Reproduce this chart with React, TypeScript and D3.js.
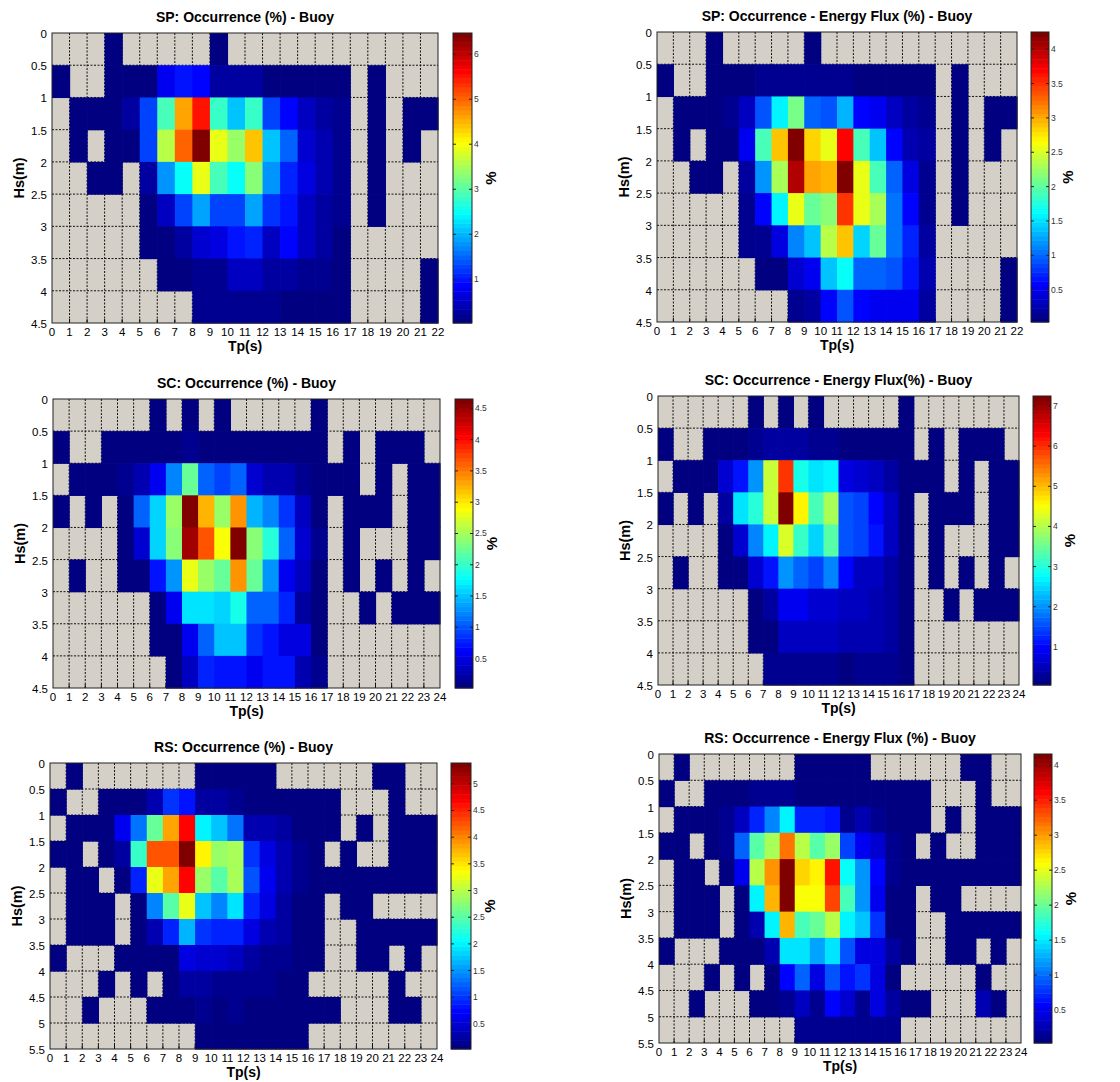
import { useEffect, useRef } from "react";
import * as d3 from "d3";

const _ = null;
type Cell = number | null;

// Tp bins are 1 s wide, Hs bins 0.5 m; null = no data (grey)
const spOccurrence: Cell[][] = [
  [_, _, _, 0.03, _, _, _, _, _, 0.04, _, _, _, _, _, _, _, _, _, _, _, _],
  [0.03, _, _, 0.03, 0.04, 0.12, 0.75, 0.95, 0.85, 0.3, 0.3, 0.3, 0.12, 0.12, 0.1, 0.08, 0.08, _, 0.03, _, _, _],
  [_, 0.03, 0.03, 0.03, 0.3, 1.3, 2.9, 4.65, 5.55, 2.8, 2.1, 2.8, 1.3, 0.9, 0.5, 0.3, 0.15, _, 0.03, _, 0.03, 0.03],
  [_, 0.03, _, 0.03, 0.03, 1.3, 3.65, 5.0, 6.47, 3.9, 3.4, 4.4, 2.05, 1.5, 0.6, 0.4, 0.2, _, 0.03, _, 0.03, _],
  [_, _, 0.03, 0.03, _, 0.3, 1.75, 2.45, 3.9, 2.9, 2.45, 3.3, 1.75, 1.1, 0.65, 0.35, 0.15, _, 0.03, _, _, _],
  [_, _, _, _, _, 0.1, 0.45, 1.25, 1.9, 1.25, 1.25, 1.9, 1.2, 1.0, 0.5, 0.3, 0.15, _, 0.03, _, _, _],
  [_, _, _, _, _, 0.08, 0.1, 0.3, 0.6, 0.7, 1.0, 1.1, 0.45, 0.85, 0.5, 0.3, 0.12, _, _, _, _, _],
  [_, _, _, _, _, _, 0.08, 0.08, 0.2, 0.2, 0.5, 0.5, 0.25, 0.25, 0.2, 0.15, 0.1, _, _, _, _, 0.03],
  [_, _, _, _, _, _, _, _, 0.15, 0.15, 0.2, 0.2, 0.2, 0.12, 0.12, 0.12, 0.1, _, _, _, _, 0.03],
];

const spEnergy: Cell[][] = [
  [_, _, _, 0.03, _, _, _, _, _, 0.03, _, _, _, _, _, _, _, _, _, _, _, _],
  [0.03, _, _, 0.05, 0.05, 0.08, 0.15, 0.15, 0.15, 0.12, 0.1, 0.1, 0.08, 0.08, 0.08, 0.06, 0.06, _, 0.03, _, _, _],
  [_, 0.03, 0.03, 0.03, 0.1, 0.3, 0.95, 1.6, 2.1, 1.0, 0.95, 1.3, 0.6, 0.5, 0.3, 0.2, 0.15, _, 0.03, _, 0.03, 0.03],
  [_, 0.03, _, 0.03, 0.03, 0.55, 1.9, 2.9, 4.25, 2.8, 2.6, 3.7, 1.9, 1.4, 0.6, 0.25, 0.2, _, 0.03, _, 0.03, _],
  [_, _, 0.03, 0.03, _, 0.2, 1.2, 2.3, 4.0, 3.0, 2.95, 4.25, 2.6, 1.9, 1.0, 0.45, 0.15, _, 0.03, _, _, _],
  [_, _, _, _, _, 0.1, 0.6, 1.6, 2.55, 2.05, 2.15, 3.5, 2.6, 2.3, 1.05, 0.6, 0.15, _, 0.03, _, _, _],
  [_, _, _, _, _, 0.1, 0.1, 0.45, 1.1, 1.4, 2.4, 2.9, 1.45, 2.05, 1.05, 0.7, 0.2, _, _, _, _, _],
  [_, _, _, _, _, _, 0.08, 0.08, 0.4, 0.55, 1.35, 1.65, 1.0, 1.0, 0.9, 0.65, 0.25, _, _, _, _, 0.03],
  [_, _, _, _, _, _, _, _, 0.1, 0.2, 0.6, 0.95, 0.6, 0.55, 0.55, 0.5, 0.2, _, _, _, _, 0.03],
];

const scOccurrence: Cell[][] = [
  [_, _, _, _, _, _, 0.03, _, 0.03, _, 0.03, _, _, _, _, _, 0.03, _, _, _, _, _, _, _],
  [0.03, _, _, 0.03, 0.03, 0.03, 0.05, 0.08, 0.12, 0.08, 0.06, 0.05, 0.05, 0.04, 0.04, 0.03, 0.03, _, 0.03, _, 0.03, 0.03, 0.03, _],
  [_, 0.03, 0.03, 0.03, 0.15, 0.25, 0.56, 1.25, 2.2, 1.05, 0.95, 1.05, 0.45, 0.25, 0.25, 0.15, 0.05, 0.03, 0.03, _, 0.03, _, 0.03, 0.03],
  [0.03, _, 0.03, _, 0.08, 1.05, 1.55, 2.45, 4.65, 3.25, 2.45, 3.4, 1.45, 1.25, 0.85, 0.35, 0.05, _, 0.03, 0.03, 0.03, _, 0.03, 0.03],
  [_, _, _, _, 0.05, 0.4, 1.55, 2.35, 4.45, 3.65, 2.9, 4.65, 2.35, 1.95, 1.05, 0.4, 0.15, _, 0.03, _, _, _, 0.03, 0.03],
  [_, 0.03, _, _, 0.03, 0.03, 0.7, 1.3, 2.8, 2.45, 2.25, 3.4, 2.2, 1.3, 0.55, 0.35, 0.05, _, 0.03, _, 0.03, _, 0.03, _],
  [_, _, _, _, _, _, 0.05, 0.55, 1.65, 1.65, 1.55, 1.85, 1.1, 1.05, 0.8, 0.2, 0.05, _, _, 0.03, _, 0.03, 0.03, 0.03],
  [_, _, _, _, _, _, 0.05, 0.1, 0.6, 1.05, 1.5, 1.5, 0.85, 0.7, 0.5, 0.5, 0.05, _, _, _, _, _, _, _],
  [_, _, _, _, _, _, _, 0.08, 0.35, 0.8, 0.75, 0.75, 0.55, 0.7, 0.7, 0.3, 0.15, _, _, _, _, _, _, _],
];

const scEnergy: Cell[][] = [
  [_, _, _, _, _, _, 0.05, _, 0.05, _, 0.05, _, _, _, _, _, 0.05, _, _, _, _, _, _, _],
  [0.05, _, _, 0.05, 0.05, 0.1, 0.2, 0.3, 0.35, 0.3, 0.25, 0.2, 0.15, 0.1, 0.1, 0.08, 0.05, _, 0.05, _, 0.05, 0.05, 0.05, _],
  [_, 0.05, 0.05, 0.05, 0.7, 1.1, 2.0, 4.1, 6.0, 2.9, 2.6, 2.7, 0.8, 0.65, 0.5, 0.35, 0.1, 0.05, 0.05, _, 0.05, _, 0.05, 0.05],
  [0.05, _, 0.05, _, 0.35, 2.6, 3.05, 4.1, 7.25, 4.6, 3.3, 3.9, 1.6, 1.45, 1.0, 0.5, 0.15, _, 0.05, 0.05, 0.05, _, 0.05, 0.05],
  [_, _, _, _, 0.1, 0.7, 1.9, 2.7, 4.3, 3.1, 2.5, 3.4, 1.6, 1.45, 1.1, 0.6, 0.1, _, 0.05, _, _, _, 0.05, 0.05],
  [_, 0.05, _, _, 0.05, 0.05, 0.7, 1.1, 2.0, 1.7, 1.45, 1.95, 1.0, 0.6, 0.5, 0.35, 0.1, _, 0.05, _, 0.05, _, 0.05, _],
  [_, _, _, _, _, _, 0.08, 0.35, 0.9, 0.85, 0.7, 0.7, 0.55, 0.5, 0.45, 0.3, 0.1, _, _, 0.05, _, 0.05, 0.05, 0.05],
  [_, _, _, _, _, _, 0.1, 0.1, 0.55, 0.55, 0.55, 0.55, 0.45, 0.45, 0.4, 0.35, 0.08, _, _, _, _, _, _, _],
  [_, _, _, _, _, _, _, 0.2, 0.2, 0.2, 0.2, 0.2, 0.12, 0.2, 0.2, 0.2, 0.1, _, _, _, _, _, _, _],
];

const rsOccurrence: Cell[][] = [
  [_, 0.03, _, _, _, _, _, _, _, 0.03, 0.03, 0.03, 0.03, 0.03, _, _, _, _, _, _, 0.03, 0.03, _, _],
  [0.03, _, _, 0.03, 0.03, 0.05, 0.3, 1.0, 0.8, 0.2, 0.2, 0.12, 0.08, 0.05, 0.05, 0.05, 0.05, 0.05, _, _, _, 0.03, _, _],
  [_, 0.03, 0.03, 0.03, 0.67, 1.35, 2.55, 3.8, 4.65, 2.0, 1.75, 1.35, 0.35, 0.35, 0.25, 0.05, 0.05, 0.05, _, 0.03, _, 0.03, 0.03, 0.03],
  [0.03, 0.03, _, 0.03, 0.2, 2.35, 4.3, 4.3, 5.39, 3.45, 2.8, 2.9, 1.0, 0.6, 0.3, 0.15, 0.05, _, 0.03, _, _, 0.03, 0.03, 0.03],
  [_, 0.03, 0.03, _, 0.05, 0.9, 3.25, 3.8, 4.65, 2.8, 2.5, 2.9, 1.2, 0.65, 0.3, 0.12, 0.05, 0.05, 0.05, 0.05, 0.05, 0.05, 0.05, 0.05],
  [_, 0.03, 0.03, 0.03, _, 0.05, 1.4, 2.5, 3.25, 1.75, 1.4, 1.95, 0.9, 0.6, 0.2, 0.08, 0.05, _, 0.03, 0.03, _, _, _, _],
  [_, 0.03, 0.03, 0.03, _, 0.05, 0.3, 0.9, 1.7, 1.0, 0.9, 0.9, 0.55, 0.35, 0.2, 0.05, 0.05, _, _, 0.03, 0.03, 0.03, 0.03, 0.03],
  [0.03, _, _, _, 0.03, 0.03, 0.05, 0.08, 0.55, 0.5, 0.45, 0.4, 0.2, 0.15, 0.12, 0.05, 0.05, _, _, 0.03, 0.03, _, 0.03, _],
  [_, _, _, 0.03, _, 0.03, _, 0.05, 0.2, 0.2, 0.12, 0.12, 0.12, 0.15, 0.1, 0.05, _, _, _, _, _, 0.03, _, _],
  [_, _, 0.03, _, _, _, 0.05, 0.05, 0.05, 0.12, 0.08, 0.12, 0.08, 0.05, 0.05, 0.05, 0.05, 0.05, _, _, _, 0.03, 0.03, _],
  [_, _, _, _, _, _, _, _, _, 0.05, 0.05, 0.05, 0.05, 0.05, 0.05, 0.05, _, _, _, _, _, _, _, _],
];

const rsEnergy: Cell[][] = [
  [_, 0.03, _, _, _, _, _, _, _, 0.03, 0.03, 0.03, 0.03, 0.03, _, _, _, _, _, _, 0.03, 0.03, _, _],
  [0.03, _, _, 0.05, 0.05, 0.05, 0.12, 0.15, 0.15, 0.08, 0.08, 0.08, 0.05, 0.05, 0.05, 0.05, 0.05, 0.05, _, _, _, 0.03, _, _],
  [_, 0.03, 0.03, 0.03, 0.1, 0.3, 0.7, 1.1, 1.55, 0.7, 0.7, 0.65, 0.15, 0.25, 0.15, 0.05, 0.05, 0.05, _, 0.03, _, 0.03, 0.03, 0.03],
  [0.03, 0.03, _, 0.03, 0.1, 0.95, 1.95, 2.25, 3.15, 2.3, 1.95, 2.2, 0.83, 0.5, 0.4, 0.12, 0.05, _, 0.03, _, _, 0.03, 0.03, 0.03],
  [_, 0.03, 0.03, _, 0.05, 0.5, 2.3, 3.0, 4.16, 2.8, 2.65, 3.55, 1.6, 1.15, 0.6, 0.12, 0.05, 0.05, 0.05, 0.05, 0.05, 0.05, 0.05, 0.05],
  [_, 0.03, 0.03, 0.03, _, 0.05, 1.55, 2.9, 4.16, 2.6, 2.55, 3.35, 1.85, 1.15, 0.5, 0.05, 0.05, _, 0.03, 0.03, _, _, _, _],
  [_, 0.03, 0.03, 0.03, _, 0.05, 0.25, 1.55, 2.9, 1.85, 2.0, 2.35, 1.55, 1.35, 0.75, 0.05, 0.05, _, _, 0.03, 0.03, 0.03, 0.03, 0.03],
  [0.03, _, _, _, 0.03, 0.03, 0.03, 0.25, 1.5, 1.5, 1.25, 1.45, 0.9, 0.45, 0.45, 0.2, 0.05, _, _, 0.03, 0.03, _, 0.03, _],
  [_, _, _, 0.03, _, 0.03, _, 0.05, 0.55, 0.95, 0.45, 0.9, 0.65, 0.8, 0.45, 0.05, _, _, _, _, _, 0.03, _, _],
  [_, _, 0.03, _, _, _, 0.05, 0.05, 0.15, 0.3, 0.15, 0.55, 0.4, 0.15, 0.45, 0.2, 0.05, 0.05, _, _, _, 0.25, 0.05, _],
  [_, _, _, _, _, _, _, _, _, 0.1, 0.1, 0.1, 0.12, 0.12, 0.15, 0.12, _, _, _, _, _, _, _, _],
];

// colorbar tick labels
const ticksSpOcc = [1, 2, 3, 4, 5, 6];
const ticksSpEnergy = [0.5, 1, 1.5, 2, 2.5, 3, 3.5, 4];
const ticksScOcc = [0.5, 1, 1.5, 2, 2.5, 3, 3.5, 4, 4.5];
const ticksScEnergy = [1, 2, 3, 4, 5, 6, 7];
const ticksRsOcc = [0.5, 1, 1.5, 2, 2.5, 3, 3.5, 4, 4.5, 5];
const ticksRsEnergy = [0.5, 1, 1.5, 2, 2.5, 3, 3.5, 4];

const panels = [
  { title: "SP: Occurrence (%) - Buoy", data: spOccurrence, cbTicks: ticksSpOcc, x: 52, y: 33, w: 386, h: 290, cbx: 453, cbw: 19 },
  { title: "SP: Occurrence - Energy Flux (%) - Buoy", data: spEnergy, cbTicks: ticksSpEnergy, x: 657, y: 32, w: 360, h: 290, cbx: 1031, cbw: 18 },
  { title: "SC: Occurrence (%) - Buoy", data: scOccurrence, cbTicks: ticksScOcc, x: 53, y: 399, w: 387, h: 289, cbx: 455, cbw: 18 },
  { title: "SC: Occurrence - Energy Flux(%) - Buoy", data: scEnergy, cbTicks: ticksScEnergy, x: 658, y: 396, w: 361, h: 289, cbx: 1033, cbw: 18 },
  { title: "RS: Occurrence (%) - Buoy", data: rsOccurrence, cbTicks: ticksRsOcc, x: 50, y: 763, w: 387, h: 286, cbx: 451, cbw: 20 },
  { title: "RS: Occurrence - Energy Flux (%) - Buoy", data: rsEnergy, cbTicks: ticksRsEnergy, x: 659, y: 754, w: 362, h: 289, cbx: 1034, cbw: 18 },
];

const NCOLORS = 64;
const GREY = "#d4d0c8";
const HEIGHT = 1082;

// matlab jet
function jet(t: number) {
  const c = (v: number) => Math.round(255 * Math.max(0, Math.min(1, v)));
  const r = Math.min(4 * t - 1.5, -4 * t + 4.5);
  const g = Math.min(4 * t - 0.5, -4 * t + 3.5);
  const b = Math.min(4 * t + 0.5, -4 * t + 2.5);
  return `rgb(${c(r)},${c(g)},${c(b)})`;
}

function drawPanel(root: any, p: any) {
  const nRows = p.data.length;
  const nCols = p.data[0].length;
  const hsMax = nRows * 0.5;

  const x = d3.scaleLinear().domain([0, nCols]).range([p.x, p.x + p.w]);
  const y = d3.scaleLinear().domain([0, hsMax]).range([p.y, p.y + p.h]);

  const vals = (p.data.flat() as Cell[]).filter((v) => v != null) as number[];
  const [lo, hi] = d3.extent(vals) as [number, number];
  const idx = d3.scaleQuantize<number>().domain([lo, hi]).range(d3.range(NCOLORS));
  const color = (v: number) => jet(idx(v) / (NCOLORS - 1));

  const g = root.append("g");

  g.append("rect")
    .attr("x", p.x).attr("y", p.y).attr("width", p.w).attr("height", p.h)
    .attr("fill", GREY);

  // dashed grid (only shows where no data)
  g.append("g")
    .selectAll("line")
    .data(d3.range(1, nCols))
    .join("line")
    .attr("x1", (d: number) => x(d)).attr("x2", (d: number) => x(d))
    .attr("y1", p.y).attr("y2", p.y + p.h)
    .attr("stroke", "#111").attr("stroke-width", 1).attr("stroke-dasharray", "2,1.5");
  g.append("g")
    .selectAll("line")
    .data(d3.range(0.5, hsMax, 0.5))
    .join("line")
    .attr("y1", (d: number) => y(d)).attr("y2", (d: number) => y(d))
    .attr("x1", p.x).attr("x2", p.x + p.w)
    .attr("stroke", "#111").attr("stroke-width", 1).attr("stroke-dasharray", "2,1.5");

  // inward ticks along the bottom
  g.append("g")
    .selectAll("line")
    .data(d3.range(1, nCols))
    .join("line")
    .attr("x1", (d: number) => x(d)).attr("x2", (d: number) => x(d))
    .attr("y1", p.y + p.h - 4).attr("y2", p.y + p.h)
    .attr("stroke", "#111");

  const cells: { r: number; c: number; v: number }[] = [];
  p.data.forEach((row: Cell[], r: number) =>
    row.forEach((v, c) => {
      if (v != null) cells.push({ r, c, v });
    })
  );
  g.append("g")
    .selectAll("rect")
    .data(cells)
    .join("rect")
    .attr("x", (d: any) => x(d.c))
    .attr("y", (d: any) => y(d.r * 0.5))
    .attr("width", (d: any) => x(d.c + 1) - x(d.c) + 0.6)
    .attr("height", (d: any) => y((d.r + 1) * 0.5) - y(d.r * 0.5) + 0.6)
    .attr("fill", (d: any) => color(d.v));

  g.append("rect")
    .attr("x", p.x).attr("y", p.y).attr("width", p.w).attr("height", p.h)
    .attr("fill", "none").attr("stroke", "#222").attr("stroke-width", 1);

  // axis tick labels
  g.append("g")
    .selectAll("text")
    .data(d3.range(0, nCols + 1))
    .join("text")
    .attr("x", (d: number) => x(d))
    .attr("y", p.y + p.h + 13)
    .attr("text-anchor", "middle")
    .attr("font-size", 11.5)
    .text((d: number) => d);
  g.append("g")
    .selectAll("text")
    .data(d3.range(0, hsMax + 0.01, 0.5))
    .join("text")
    .attr("x", p.x - 5)
    .attr("y", (d: number) => y(d) + 5)
    .attr("text-anchor", "end")
    .attr("font-size", 11.5)
    .text((d: number) => String(+d.toFixed(1)));

  g.append("text")
    .attr("x", p.x + p.w / 2)
    .attr("y", Math.min(p.y + p.h + 28, HEIGHT - 4))
    .attr("text-anchor", "middle")
    .attr("font-size", 14).attr("font-weight", "bold")
    .text("Tp(s)");
  g.append("text")
    .attr("transform", `translate(${p.x - 28},${p.y + p.h / 2}) rotate(-90)`)
    .attr("text-anchor", "middle")
    .attr("font-size", 14.5).attr("font-weight", "bold")
    .text("Hs(m)");
  g.append("text")
    .attr("x", p.x + p.w / 2)
    .attr("y", p.y - 11)
    .attr("text-anchor", "middle")
    .attr("font-size", 14).attr("font-weight", "bold")
    .text(p.title);

  // colorbar
  const cb = d3.scaleLinear().domain([lo, hi]).range([p.y + p.h, p.y]);
  const step = (hi - lo) / NCOLORS;
  g.append("g")
    .selectAll("rect")
    .data(d3.range(NCOLORS))
    .join("rect")
    .attr("x", p.cbx)
    .attr("width", p.cbw)
    .attr("y", (k: number) => cb(lo + (k + 1) * step))
    .attr("height", (k: number) => cb(lo + k * step) - cb(lo + (k + 1) * step) + 0.5)
    .attr("fill", (k: number) => jet(k / (NCOLORS - 1)));
  g.append("rect")
    .attr("x", p.cbx).attr("y", p.y).attr("width", p.cbw).attr("height", p.h)
    .attr("fill", "none").attr("stroke", "#222").attr("stroke-width", 1);

  const tk = g.append("g").selectAll("g").data(p.cbTicks).join("g");
  tk.append("line")
    .attr("x1", p.cbx).attr("x2", p.cbx + 3)
    .attr("y1", (d: number) => cb(d)).attr("y2", (d: number) => cb(d))
    .attr("stroke", "#222");
  tk.append("line")
    .attr("x1", p.cbx + p.cbw - 3).attr("x2", p.cbx + p.cbw)
    .attr("y1", (d: number) => cb(d)).attr("y2", (d: number) => cb(d))
    .attr("stroke", "#222");
  tk.append("text")
    .attr("x", p.cbx + p.cbw + 2)
    .attr("y", (d: number) => cb(d) + 3)
    .attr("font-size", 8.5)
    .attr("fill", "#333")
    .text((d: number) => d);

  g.append("text")
    .attr("transform", `translate(${p.cbx + p.cbw + 24},${p.y + p.h / 2}) rotate(-90)`)
    .attr("text-anchor", "middle")
    .attr("font-size", 15).attr("font-weight", "bold")
    .text("%");
}

export default function App() {
  const svgRef = useRef<SVGSVGElement>(null);

  useEffect(() => {
    const svg = d3.select(svgRef.current);
    svg.selectAll("*").remove();
    svg.append("rect").attr("width", 1120).attr("height", HEIGHT).attr("fill", "#fff");
    panels.forEach((p) => drawPanel(svg, p));
  }, []);

  return (
    <svg
      ref={svgRef}
      width={1120}
      height={HEIGHT}
      style={{ position: "absolute", left: 0, top: 0, fontFamily: "'Liberation Sans', Arial, sans-serif" }}
    />
  );
}
